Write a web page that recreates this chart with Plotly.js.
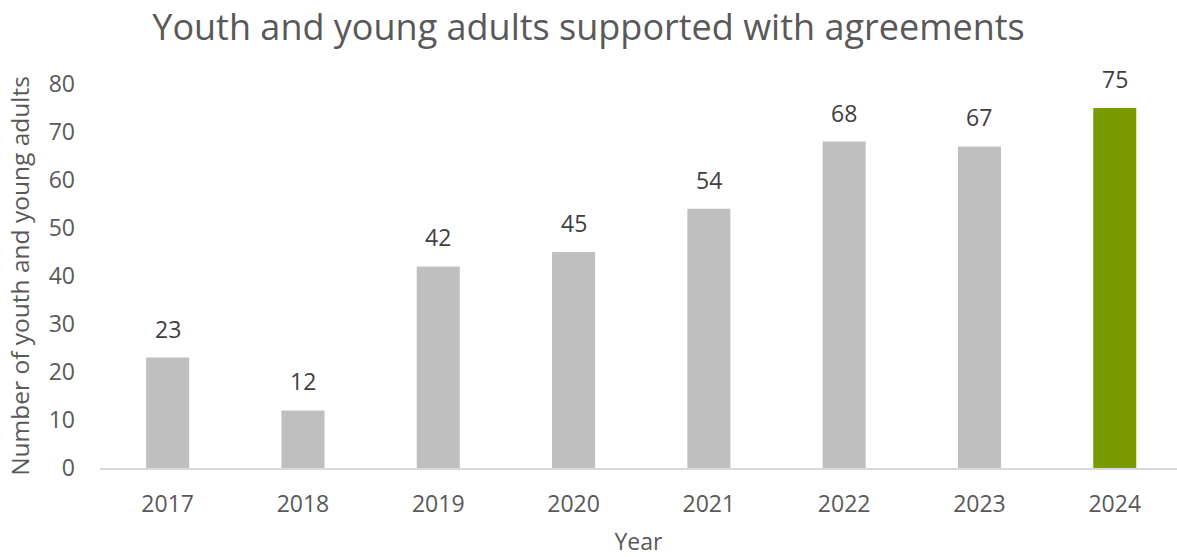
<!DOCTYPE html>
<html>
<head>
<meta charset="utf-8">
<script src="https://cdn.plot.ly/plotly-3.0.1.min.js"></script>
<style>html,body{margin:0;padding:0;background:#fff;}#chart{width:1177px;height:557px;}</style>
</head>
<body>
<div id="chart"></div>
<script>
const years = ["2017","2018","2019","2020","2021","2022","2023","2024"];
const counts = [23, 12, 42, 45, 54, 68, 67, 75];
const barColors = ["#BFBFBF","#BFBFBF","#BFBFBF","#BFBFBF","#BFBFBF","#BFBFBF","#BFBFBF","#7A9A01"];
const yTicks = [0,10,20,30,40,50,60,70,80];

const FONT = "'Open Sans', 'Noto Sans', sans-serif";
const trace = {
  type: "bar",
  x: years,
  y: counts,
  marker: {color: barColors},
  hoverinfo: "none"
};
// annotation x on a category axis uses the category index
const annotations = years.map((yr, i) => ({
  x: i, y: counts[i], xref: "x", yref: "y",
  text: String(counts[i]), showarrow: false,
  yanchor: "middle", yshift: 29,
  font: {family: FONT, size: 23, color: "#404040"}
}));
const layout = {
  width: 1177, height: 557,
  margin: {l: 100, r: 0, t: 84, b: 89},
  paper_bgcolor: "#fff", plot_bgcolor: "#fff",
  bargap: 0.682,
  showlegend: false,
  title: {text: "Youth and young adults supported with agreements", x: 0.5, xanchor: "center", y: 0.95, yanchor: "middle",
          font: {family: FONT, size: 36, color: "#595959"}},
  xaxis: {
    type: "category", range: [-0.5, 7.46],
    showline: true, linecolor: "#D9D9D9", linewidth: 2,
    ticks: "", showgrid: false, zeroline: false,
    tickfont: {family: FONT, size: 23, color: "#595959"},
    ticklabelstandoff: 14,
    title: {text: "Year", standoff: 18, font: {family: FONT, size: 23, color: "#595959"}}
  },
  yaxis: {
    range: [0, 80], tickvals: yTicks, showgrid: false, zeroline: false, showline: false,
    ticks: "", tickfont: {family: FONT, size: 23, color: "#595959"},
    ticklabelstandoff: 24,
    title: {text: "Number of youth and young adults", standoff: 12, font: {family: FONT, size: 24.5, color: "#595959"}}
  },
  annotations: annotations
};
Plotly.newPlot("chart", [trace], layout, {displayModeBar: false, staticPlot: true});
</script>
</body>
</html>
